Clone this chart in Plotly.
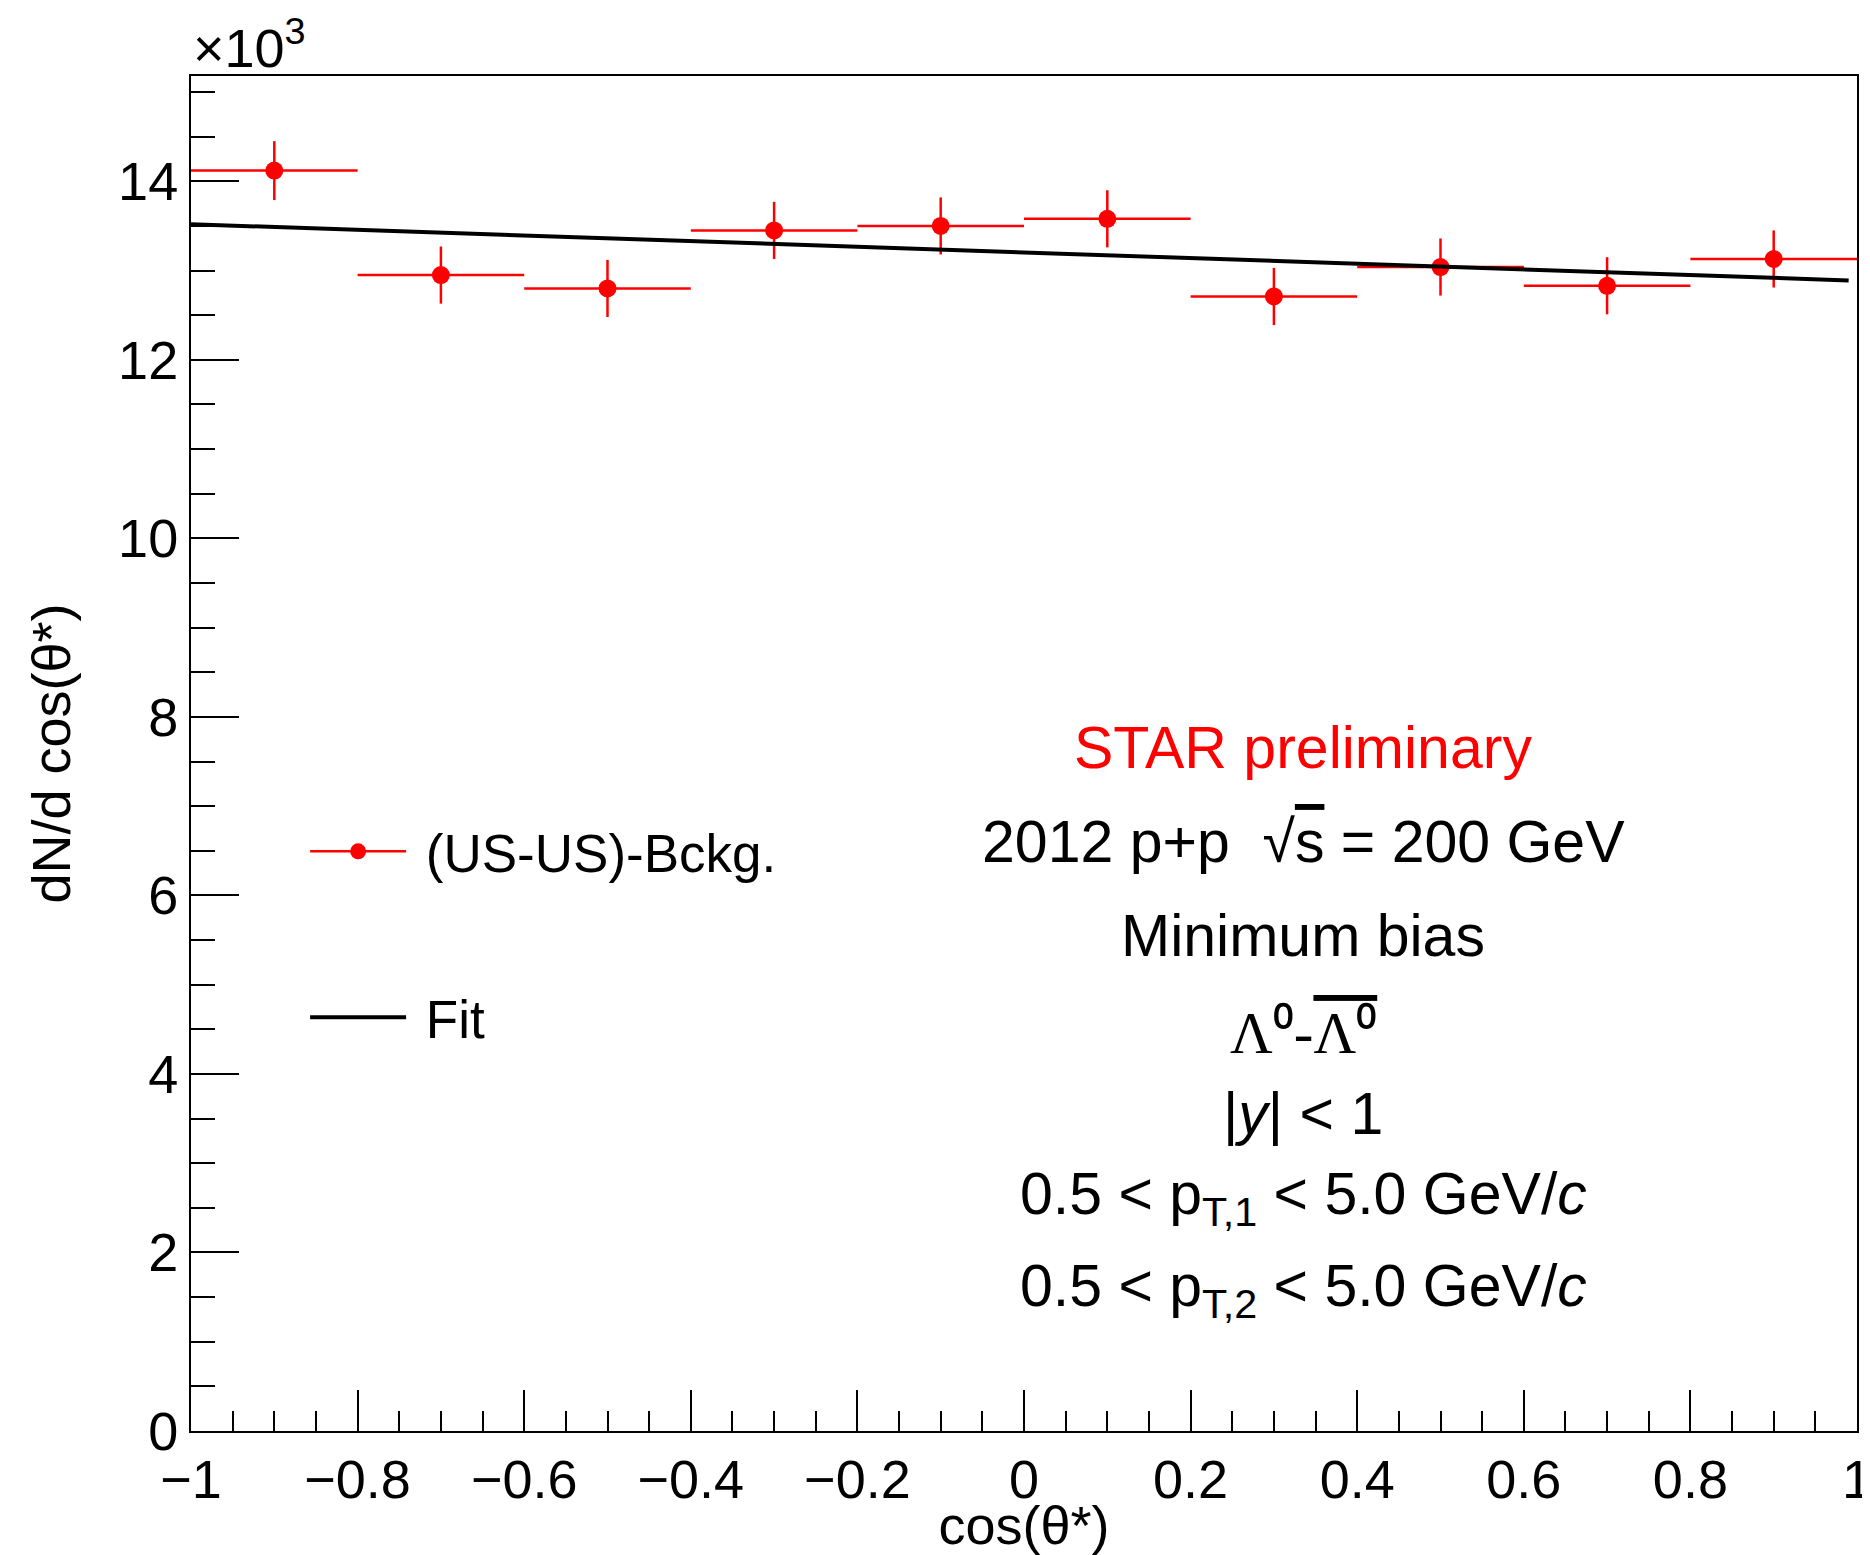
import plotly.graph_objects as go

# ---- data (y in units of 10^3) ----
cos_theta = [-0.9, -0.7, -0.5, -0.3, -0.1, 0.1, 0.3, 0.5, 0.7, 0.9]
counts_k = [14.12, 12.95, 12.80, 13.45, 13.50, 13.58, 12.71, 13.04, 12.83, 13.13]
counts_err_k = [0.33, 0.32, 0.32, 0.32, 0.32, 0.32, 0.32, 0.32, 0.32, 0.32]
bin_half_width = [0.1] * 10
fit_x = [-1.0, 0.99]
fit_y = [13.52, 12.89]

x_ticks = [-1, -0.8, -0.6, -0.4, -0.2, 0, 0.2, 0.4, 0.6, 0.8, 1]
y_ticks = [0, 2, 4, 6, 8, 10, 12, 14]

FONT = "Liberation Sans, Arial, Helvetica, sans-serif"
SERIF = "Liberation Serif, Times New Roman, serif"
RED = "#ff0000"

fig = go.Figure()

# data with errors
fig.add_trace(go.Scatter(
    x=cos_theta, y=counts_k, mode="markers",
    marker=dict(color=RED, size=18, symbol="circle"),
    error_x=dict(type="data", array=bin_half_width, color=RED, thickness=2.5, width=0),
    error_y=dict(type="data", array=counts_err_k, color=RED, thickness=2.5, width=0),
    showlegend=False, legendgroup="a",
))
# fit
fig.add_trace(go.Scatter(
    x=fit_x, y=fit_y, mode="lines",
    line=dict(color="black", width=4),
    showlegend=False, legendgroup="b",
))
# legend proxies
fig.add_trace(go.Scatter(
    x=[None], y=[None], mode="lines+markers", name="\u00a0(US-US)-Bckg.",
    line=dict(color=RED, width=2.5), marker=dict(color=RED, size=18),
    legendgroup="a",
))
fig.add_trace(go.Scatter(
    x=[None], y=[None], mode="lines", name="\u00a0Fit",
    line=dict(color="black", width=4),
    legendgroup="b",
))

annots = [
    ("<span style='color:#ff0000'>STAR preliminary</span>", 0.504),
    ("2012 p+p  √<span style='text-decoration:overline'>s</span> = 200 GeV", 0.435),
    ("Minimum bias", 0.365),
    (f"<span style='font-family:{SERIF}'>Λ⁰-<span style='text-decoration:overline'>Λ⁰</span></span>", 0.294),
    ("|<i>y</i>| < 1", 0.234),
    ("0.5 < p<sub>T,1</sub> < 5.0 GeV/<i>c</i>", 0.172),
    ("0.5 < p<sub>T,2</sub> < 5.0 GeV/<i>c</i>", 0.104),
]
for txt, yy in annots:
    fig.add_annotation(text=txt, x=0.6675, y=yy, xref="paper", yref="paper",
                       xanchor="center", yanchor="middle", showarrow=False,
                       font=dict(family=FONT, size=59, color="black"))

fig.add_annotation(text="×10<sup>3</sup>", x=0.0, y=1.0, xref="paper", yref="paper",
                   xanchor="left", yanchor="bottom", showarrow=False, yshift=-4,
                   font=dict(family=FONT, size=54, color="black"))

# page body has an 8px margin: figure is sized/offset to compensate
fig.update_layout(
    width=1862, height=1547,
    margin=dict(l=183, r=13, t=68, b=124),
    paper_bgcolor="white", plot_bgcolor="white",
    font=dict(family=FONT, size=54, color="black"),
    showlegend=True,
    legend=dict(x=0.0685, y=0.458, xanchor="left", yanchor="top",
                bgcolor="rgba(0,0,0,0)", borderwidth=0,
                font=dict(family=FONT, size=53),
                tracegroupgap=94, itemwidth=96, traceorder="grouped"),
)
fig.update_xaxes(
    range=[-1, 1], tickvals=x_ticks, ticks="inside", ticklen=41, tickwidth=2,
    tickcolor="black", showline=True, linecolor="black", linewidth=2, mirror=True,
    showgrid=False, zeroline=False, automargin=False, ticklabeloverflow="allow",
    minor=dict(ticks="inside", ticklen=20, tickwidth=2, tickcolor="black", dtick=0.05, showgrid=False),
    tickfont=dict(family=FONT, size=54),
    title=dict(text="cos(θ*)", font=dict(family=FONT, size=54), standoff=16),
)
fig.update_yaxes(
    range=[0, 15.18], tickvals=y_ticks, ticks="inside", ticklen=48, tickwidth=2,
    tickcolor="black", showline=True, linecolor="black", linewidth=2, mirror=True,
    showgrid=False, zeroline=False, automargin=False,
    minor=dict(ticks="inside", ticklen=24, tickwidth=2, tickcolor="black", dtick=0.5, showgrid=False),
    tickfont=dict(family=FONT, size=54),
    title=dict(text="dN/d cos(θ*)", font=dict(family=FONT, size=54), standoff=30),
)

fig.write_html("out.html")
